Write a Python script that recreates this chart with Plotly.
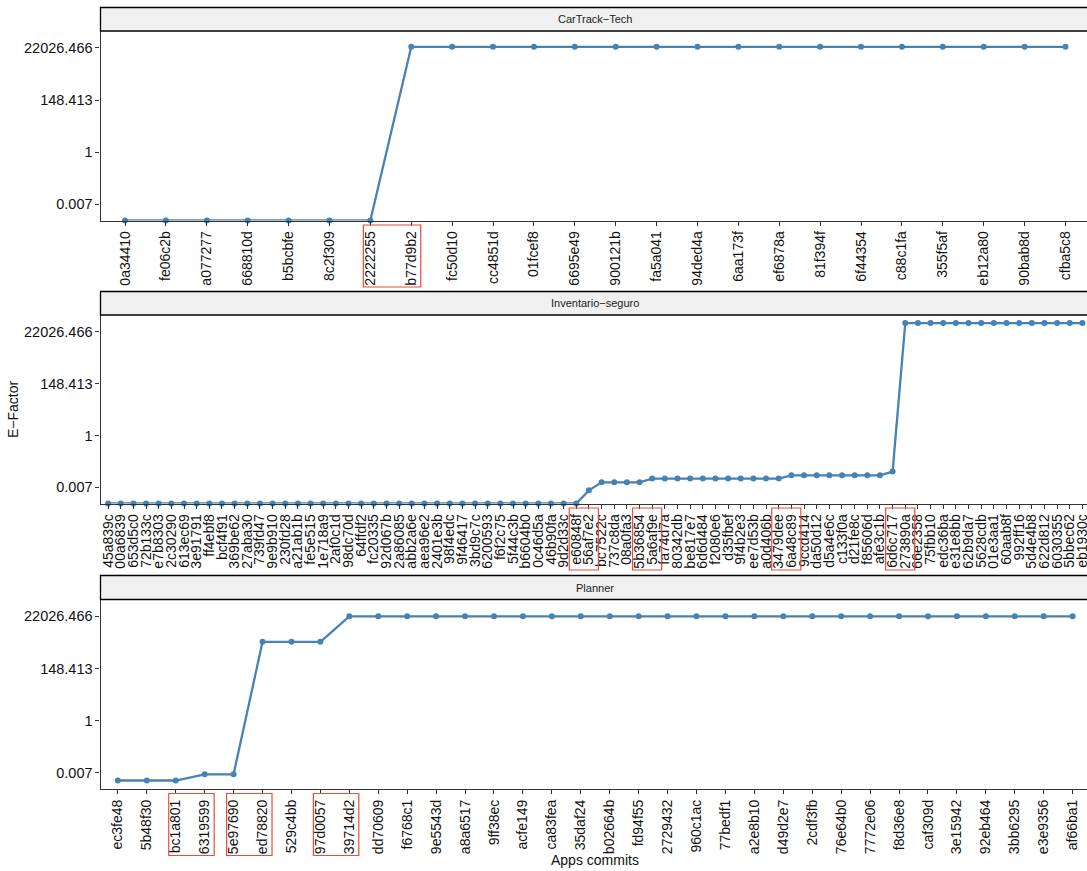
import math
import plotly.graph_objects as go

W, H = 1087, 871
FONT = "Liberation Sans, Arial, Helvetica, sans-serif"

# ---- data -------------------------------------------------------------
cartrack_commits = [
    "0a34410", "fe06c2b", "a077277", "668810d", "b5bcbfe", "8c2f309",
    "2222255", "b77d9b2", "fc50d10", "cc4851d", "01fcef8", "6695e49",
    "900121b", "fa5a041", "94ded4a", "6aa173f", "ef6878a", "81f394f",
    "6f44354", "c88c1fa", "355f5af", "eb12a80", "90bab8d", "cfba5c8",
]
cartrack_efactor = [
    0, 0, 0, 0, 0, 0, 0,
    24300, 24300, 24300, 24300, 24300, 24300, 24300, 24300, 24300,
    24300, 24300, 24300, 24300, 24300, 24300, 24300, 24300,
]

inventario_commits = [
    "45a839c", "00a6839", "653d5c0", "72b133c", "e7b8303", "2c30290",
    "613ec69", "3e91791", "ff4ebf8", "bcf4f91", "369be62", "27aba30",
    "739fd47", "9e9b910", "230fd28", "a21ab1b", "fe5e515", "1e718a9",
    "2af0c1d", "98dc70d", "64ffdf2", "fc20335", "92d067b", "2a86085",
    "abb2a6e", "aea96e2", "2401e3b", "98f4edc", "9f46417", "3bd9c7c",
    "6200593", "f6f2c75", "5f44c3b", "b6604b0", "0c46d5a", "46b90fa",
    "9d2d33c", "e60848f", "56af7e2", "bc7522c", "737c8da", "08a0fa3",
    "5b36854", "5a6af9e", "fa74d7a", "80342db", "be817e7", "6d6d484",
    "f2080e6", "d35fbef", "9f4b2e3", "ee7d53b", "a0d406b", "3479dee",
    "6a48c89", "9ccd414", "da50d12", "d5a4e6c", "c133f0a", "d21fe8c",
    "f85606d", "afe3c1b", "6d6c717", "273890a", "66e2358", "75fbb10",
    "edc36ba", "e31e8bb", "62b9da7", "5628cdb", "01e3aa1", "60aab8f",
    "992ff16", "5d4e4b8", "622d812", "6030355", "5bbec62", "eb1930c",
]
inventario_efactor = [
    0, 0, 0, 0, 0, 0, 0, 0, 0, 0,
    0, 0, 0, 0, 0, 0, 0, 0, 0, 0,
    0, 0, 0, 0, 0, 0, 0, 0, 0, 0,
    0, 0, 0, 0, 0, 0, 0, 0,
    0.00504,
    0.0109, 0.0109, 0.0109, 0.0109,
    0.0156, 0.0156, 0.0156, 0.0156, 0.0156, 0.0156, 0.0156, 0.0156,
    0.0156, 0.0156, 0.0156,
    0.0215, 0.0215, 0.0215, 0.0215, 0.0215, 0.0215, 0.0215, 0.0215,
    0.0308,
    51000, 51000, 51000, 51000, 51000, 51000, 51000, 51000,
    51000, 51000, 51000, 51000, 51000, 51000, 51000,
]

planner_commits = [
    "ec3fe48", "5b48f30", "bc1a801", "6319599", "5e97690", "ed78820",
    "529c4bb", "97d0057", "39714d2", "dd70609", "f6768c1", "9e5543d",
    "a8a6517", "9ff38ec", "acfe149", "ca83fea", "35daf24", "b02664b",
    "fd94f55", "2729432", "960c1ac", "77bedf1", "a2e8b10", "d49d2e7",
    "2cdf3fb", "76e64b0", "7772e06", "f8d36e8", "caf309d", "3e15942",
    "92eb464", "3bb6295", "e3e9356", "af66ba1",
]
planner_efactor = [
    0.0032, 0.0032, 0.0032,
    0.0058, 0.0058,
    1920, 1920, 1920,
    22100, 22100, 22100, 22100, 22100, 22100, 22100, 22100, 22100,
    22100, 22100, 22100, 22100, 22100, 22100, 22100, 22100, 22100,
    22100, 22100, 22100, 22100, 22100, 22100, 22100, 22100,
]

# commit pairs outlined on the x axis
cartrack_pairs = [("2222255", "b77d9b2")]
inventario_pairs = [("e60848f", "56af7e2"), ("5b36854", "5a6af9e"),
                    ("3479dee", "6a48c89"), ("6d6c717", "273890a")]
planner_pairs = [("bc1a801", "6319599"), ("5e97690", "ed78820"),
                 ("97d0057", "39714d2")]

y_tick_values = [math.exp(-5), 1, math.exp(5), math.exp(10)]
y_tick_labels = ["0.007", "1", "148.413", "22026.466"]

# ---- layout geometry (pixels) -----------------------------------------
X_LEFT, X_RIGHT = 100.5, 1090.0          # panel extent; right edge runs off the page
LN_LO, LN_HI = -6.56, 11.62             # shared natural-log y range
Y_RANGE = [LN_LO / math.log(10), LN_HI / math.log(10)]
FLOOR = math.exp(LN_LO)

panels = [
    dict(name="CarTrack\u2212Tech", commits=cartrack_commits, vals=cartrack_efactor,
         pairs=cartrack_pairs, strip=(7.5, 31.0), plot=(31.0, 220.5)),
    dict(name="Inventario\u2212seguro", commits=inventario_commits, vals=inventario_efactor,
         pairs=inventario_pairs, strip=(291.5, 315.0), plot=(315.0, 503.5)),
    dict(name="Planner", commits=planner_commits, vals=planner_efactor,
         pairs=planner_pairs, strip=(575.5, 599.5), plot=(599.5, 789.0)),
]

AXIS_COLOR = "#333333"
LINE_COLOR = "#4682B4"
BOX_COLOR = "#EE4B36"

fig = go.Figure()
shapes, annotations = [], []

for k, p in enumerate(panels, start=1):
    sfx = "" if k == 1 else str(k)
    n = len(p["commits"])
    ppu = (X_RIGHT - X_LEFT) / (n - 1 + 1.2)
    x_max = -0.6 + (W - X_LEFT) / ppu

    # zero E-Factor has no log value: it sits on the panel floor
    y_draw = [v if v > 0 else FLOOR for v in p["vals"]]

    fig.add_trace(go.Scatter(
        x=p["commits"], y=y_draw, mode="lines+markers",
        line=dict(color=LINE_COLOR, width=2.3),
        marker=dict(color=LINE_COLOR, size=6),
        cliponaxis=False, showlegend=False, hoverinfo="x+y",
        xaxis="x" + sfx, yaxis="y" + sfx,
    ))

    top, bot = p["plot"]
    fig.layout["xaxis" + sfx] = dict(
        domain=[X_LEFT / W, 1.0], anchor="y" + sfx, type="category",
        categoryorder="array", categoryarray=p["commits"],
        tickmode="array", tickvals=p["commits"], ticktext=p["commits"],
        range=[-0.6, x_max], tickangle=-90,
        showline=True, linecolor=AXIS_COLOR, linewidth=1.1, mirror=False,
        ticks="outside", ticklen=4, tickwidth=1.1, tickcolor=AXIS_COLOR,
        tickfont=dict(family=FONT, size=14, color="#111111"),
        showgrid=False, zeroline=False, automargin=False, fixedrange=True,
    )
    fig.layout["yaxis" + sfx] = dict(
        domain=[1 - bot / H, 1 - top / H], anchor="x" + sfx, type="log",
        range=Y_RANGE, tickmode="array", tickvals=y_tick_values, ticktext=y_tick_labels,
        showline=True, linecolor=AXIS_COLOR, linewidth=1.1, mirror=False,
        ticks="outside", ticklen=4, tickwidth=1.1, tickcolor=AXIS_COLOR,
        tickfont=dict(family=FONT, size=14.5, color="#111111"),
        showgrid=False, zeroline=False, automargin=False, fixedrange=True,
    )

    # facet strip
    s0, s1 = p["strip"]
    shapes.append(dict(type="rect", xref="paper", yref="paper",
                       x0=X_LEFT / W, x1=X_RIGHT / W, y0=1 - s1 / H, y1=1 - s0 / H,
                       fillcolor="#F0F0F0", line=dict(color="black", width=1.3),
                       layer="above"))
    annotations.append(dict(text=p["name"], xref="paper", yref="paper",
                            x=(X_LEFT + X_RIGHT) / 2 / W, y=1 - (s0 + s1) / 2 / H,
                            showarrow=False, xanchor="center", yanchor="middle",
                            font=dict(family=FONT, size=11, color="#1A1A1A")))

    # outlined commit pairs under the x axis
    for a, b in p["pairs"]:
        ia, ib = p["commits"].index(a), p["commits"].index(b)
        shapes.append(dict(type="rect", xref="x" + sfx, yref="paper",
                           x0=ia - 7.0 / ppu, x1=ib + 9.5 / ppu,
                           y0=1 - (bot + 66.5) / H, y1=1 - (bot + 4.5) / H,
                           line=dict(color=BOX_COLOR, width=1.2),
                           fillcolor="rgba(0,0,0,0)", layer="above"))

annotations.append(dict(text="E\u2212Factor", xref="paper", yref="paper",
                        x=13 / W, y=1 - 409 / H, textangle=-90, showarrow=False,
                        xanchor="center", yanchor="middle",
                        font=dict(family=FONT, size=14, color="#111111")))
annotations.append(dict(text="Apps commits", xref="paper", yref="paper",
                        x=(X_LEFT + X_RIGHT) / 2 / W, y=1 - 860 / H, showarrow=False,
                        xanchor="center", yanchor="middle",
                        font=dict(family=FONT, size=14, color="#111111")))

fig.update_layout(
    width=W, height=H,
    margin=dict(l=0, r=0, t=0, b=0),
    paper_bgcolor="white", plot_bgcolor="white",
    shapes=shapes, annotations=annotations,
    font=dict(family=FONT),
)

fig.write_html("out.html")
